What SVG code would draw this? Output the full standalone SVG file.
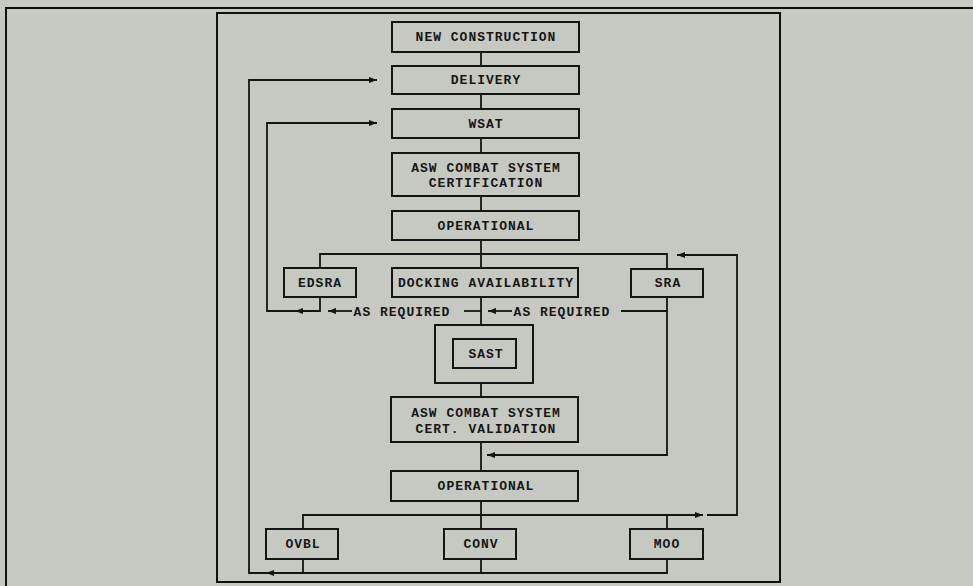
<svg xmlns="http://www.w3.org/2000/svg" width="973" height="586" viewBox="0 0 973 586">
<style>
.box{fill:none;stroke:#141414;stroke-width:2}
.ln{fill:none;stroke:#141414;stroke-width:1.8}
.frame{fill:none;stroke:#101010;stroke-width:2}
text{font-family:"Liberation Mono","Courier New",monospace;font-weight:bold;font-size:13px;letter-spacing:1px;fill:#161616;text-anchor:middle}
</style>
<defs>
<marker id="ar" viewBox="0 0 8 6" refX="8" refY="3" markerWidth="8" markerHeight="6" markerUnits="userSpaceOnUse" orient="auto">
<path d="M0,0 L8,3 L0,6 z" fill="#141414"/>
</marker>
</defs>
<rect x="0" y="0" width="973" height="586" fill="#c6c8c2"/>
<path class="frame" d="M973,8 L6,8 L6,586"/>
<rect class="frame" x="217" y="13" width="563" height="569"/>

<g id="connectors">
<!-- center spine -->
<path class="ln" d="M481,52 V66 M481,94 V109 M481,138 V153 M481,196 V211 M481,240 V268 M481,297 V325 M481,383 V397 M481,442 V471 M481,501 V529"/>
<!-- top bus -->
<path class="ln" d="M320,268 V254 H667 V269"/>
<!-- delivery loop -->
<path class="ln" d="M667,559 V573 H249 V80 H377" marker-end="url(#ar)"/>
<path class="ln" d="M290,573 H266" marker-end="url(#ar)"/>
<path class="ln" d="M303,559 V573 M481,559 V573"/>
<!-- WSAT loop -->
<path class="ln" d="M320,297 V311 H267 V123 H377" marker-end="url(#ar)"/>
<path class="ln" d="M310,311 H295" marker-end="url(#ar)"/>
<!-- left AS REQUIRED -->
<path class="ln" d="M481,311 H464"/>
<path class="ln" d="M352,311 H328" marker-end="url(#ar)"/>
<!-- right AS REQUIRED -->
<path class="ln" d="M667,311 H621"/>
<path class="ln" d="M512,311 H488" marker-end="url(#ar)"/>
<!-- SRA down to validation -->
<path class="ln" d="M667,297 V455 H487" marker-end="url(#ar)"/>
<!-- bottom bus -->
<path class="ln" d="M303,529 V515 H703" marker-end="url(#ar)"/>
<path class="ln" d="M667,515 V529"/>
<!-- right loop -->
<path class="ln" d="M707,515 H737 V255 H677" marker-end="url(#ar)"/>
<text x="402" y="316">AS REQUIRED</text>
<text x="562" y="316">AS REQUIRED</text>
</g>

<g id="new-construction"><rect class="box" x="392" y="22" width="187" height="30"/><text x="486" y="41">NEW CONSTRUCTION</text></g>
<g id="delivery"><rect class="box" x="392" y="66" width="187" height="28"/><text x="486" y="84">DELIVERY</text></g>
<g id="wsat"><rect class="box" x="392" y="109" width="187" height="29"/><text x="486" y="128">WSAT</text></g>
<g id="asw-cert"><rect class="box" x="392" y="153" width="187" height="43"/><text x="486" y="172">ASW COMBAT SYSTEM</text><text x="486" y="187">CERTIFICATION</text></g>
<g id="operational-1"><rect class="box" x="392" y="211" width="187" height="29"/><text x="486" y="230">OPERATIONAL</text></g>
<g id="edsra"><rect class="box" x="284" y="268" width="72" height="29"/><text x="320" y="287">EDSRA</text></g>
<g id="docking"><rect class="box" x="392" y="268" width="186" height="29"/><text x="486" y="287">DOCKING AVAILABILITY</text></g>
<g id="sra"><rect class="box" x="631" y="269" width="72" height="28"/><text x="668" y="287">SRA</text></g>
<g id="sast"><rect class="box" x="435" y="325" width="98" height="58"/><rect class="box" x="453" y="339" width="63" height="29"/><text x="486" y="358">SAST</text></g>
<g id="asw-validation"><rect class="box" x="391" y="397" width="187" height="45"/><text x="486" y="417">ASW COMBAT SYSTEM</text><text x="486" y="433">CERT. VALIDATION</text></g>
<g id="operational-2"><rect class="box" x="391" y="471" width="187" height="30"/><text x="486" y="490">OPERATIONAL</text></g>
<g id="ovbl"><rect class="box" x="266" y="529" width="72" height="30"/><text x="303" y="548">OVBL</text></g>
<g id="conv"><rect class="box" x="444" y="529" width="72" height="30"/><text x="481" y="548">CONV</text></g>
<g id="moo"><rect class="box" x="630" y="529" width="73" height="30"/><text x="667" y="548">MOO</text></g>
</svg>
